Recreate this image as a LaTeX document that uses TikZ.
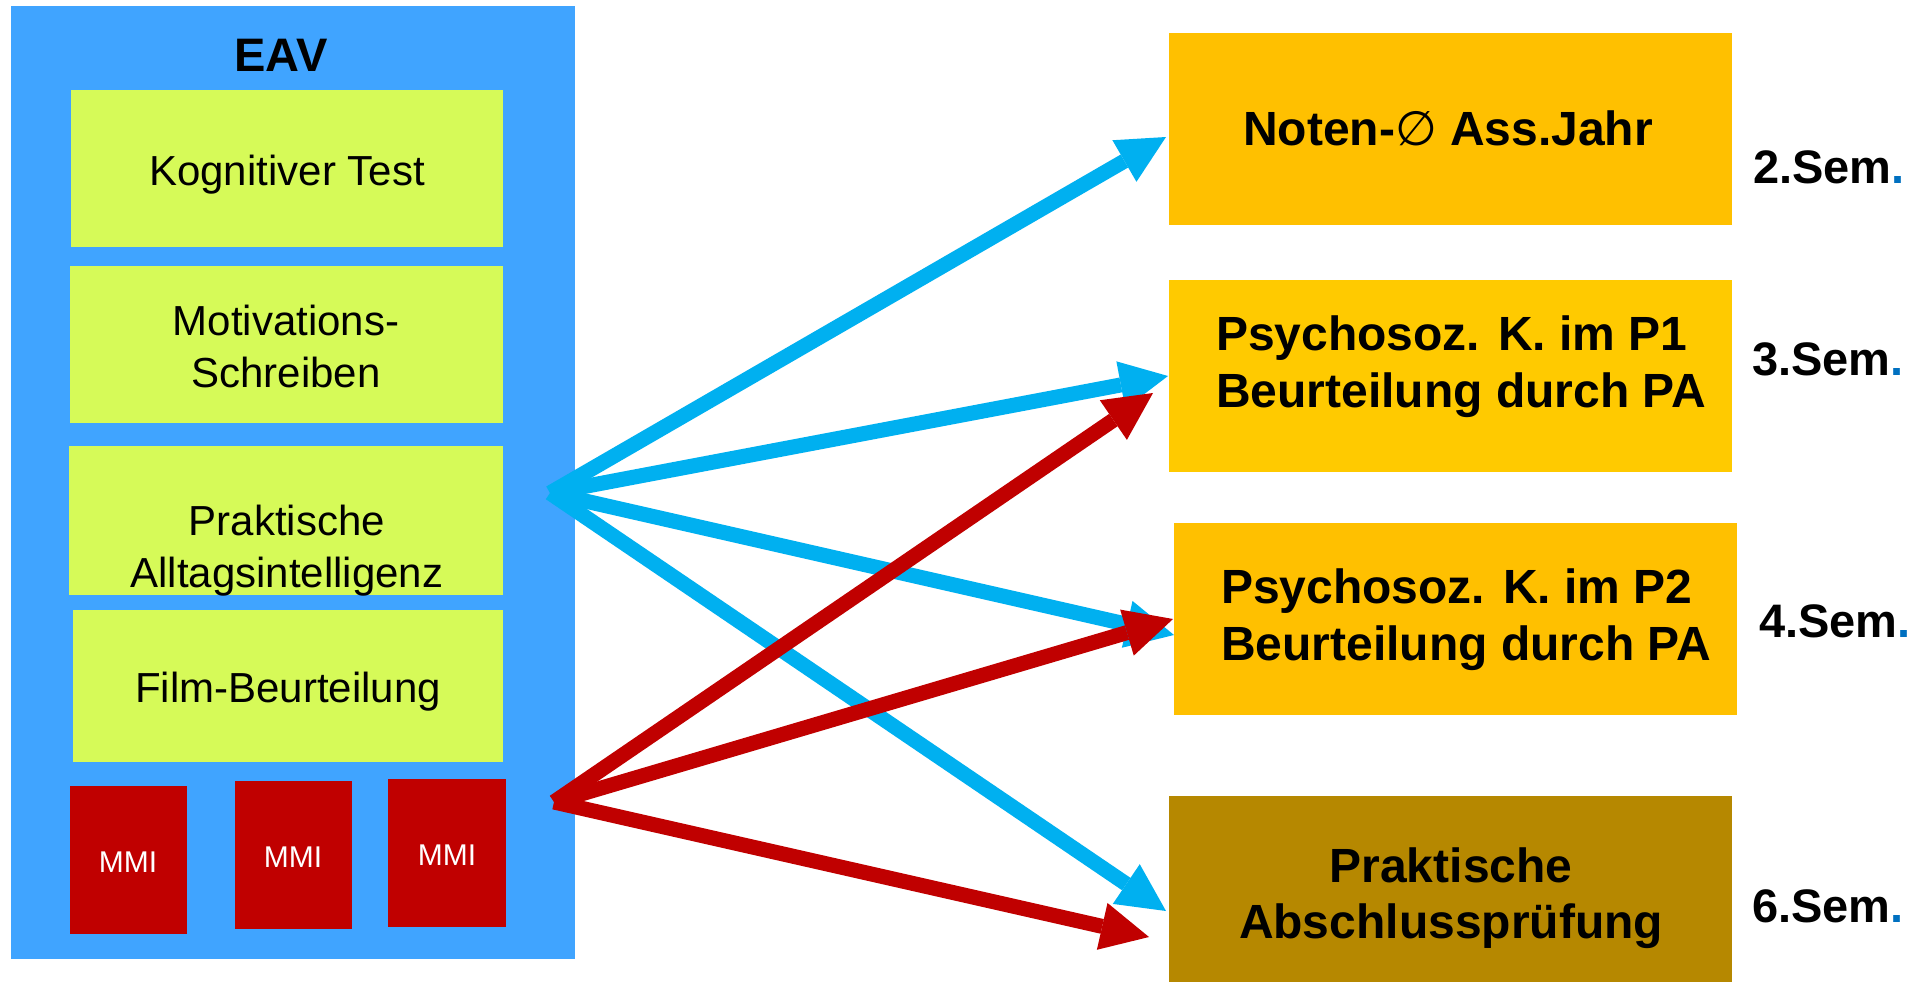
\documentclass[tikz,border=0pt]{standalone}
\usepackage{fontspec}
\setmainfont{Liberation Sans}
\newfontfamily\symfont{DejaVu Sans}
\usetikzlibrary{arrows.meta}
\definecolor{eavblue}{HTML}{40A4FF}
\definecolor{lgreen}{HTML}{D6FA58}
\definecolor{mmired}{HTML}{C00000}
\definecolor{orangeA}{HTML}{FFC000}
\definecolor{orangeB}{HTML}{FFCA00}
\definecolor{goldbox}{HTML}{B68800}
\definecolor{arrblue}{HTML}{00B0F0}
\definecolor{arrred}{HTML}{C00000}
\definecolor{dotblue}{HTML}{0070C0}
\begin{document}
\begin{tikzpicture}[x=1pt,y=-1pt,
  boxnode/.style={draw=none, inner sep=0pt, outer sep=0pt, anchor=north west, rectangle},
  gtext/.style={inner sep=0pt, anchor=base, font=\fontsize{42}{51}\selectfont, text=black},
  mtext/.style={inner sep=0pt, anchor=base, font=\fontsize{30}{36}\selectfont, text=white},
  btext/.style={inner sep=0pt, font=\fontsize{48}{58}\selectfont\bfseries, text=black},
  semtext/.style={inner sep=0pt, anchor=base west, font=\fontsize{47}{56}\selectfont\bfseries, text=black},
  barrow/.style={draw=arrblue, line width=15pt, -{Triangle[length=48pt,width=48pt,line width=0pt]}},
  rarrow/.style={draw=arrred, line width=15pt, -{Triangle[length=48pt,width=48pt,line width=0pt]}}
]
\useasboundingbox (0,0) rectangle (1917,982);
\fill[white] (0,0) rectangle (1917,982);

% EAV container
\node[boxnode, fill=eavblue, minimum width=564pt, minimum height=953pt] (eav) at (11,6) {};
\node[inner sep=0pt, anchor=base, font=\fontsize{47}{56}\selectfont\bfseries] (eavT) at (281,72) {EAV};

% green boxes
\node[boxnode, fill=lgreen, minimum width=432pt, minimum height=157pt] (kog) at (71,90) {};
\node[boxnode, fill=lgreen, minimum width=433pt, minimum height=157pt] (mot) at (70,266) {};
\node[boxnode, fill=lgreen, minimum width=434pt, minimum height=149pt] (prak) at (69,446) {};
\node[boxnode, fill=lgreen, minimum width=430pt, minimum height=152pt] (film) at (73,610) {};

\node[gtext] (kogT) at (287,185) {Kognitiver Test};
\node[gtext] (motT1) at (286,335) {Motivations-};
\node[gtext] (motT2) at (286,387) {Schreiben};
\node[gtext] (prakT1) at (287,535) {Praktische};
\node[gtext] (prakT2) at (287,587) {Alltagsintelligenz};
\node[gtext] (filmT) at (288,702) {Film-Beurteilung};

% MMI boxes
\node[boxnode, fill=mmired, minimum width=117pt, minimum height=148pt] (mmiA) at (70,786) {};
\node[boxnode, fill=mmired, minimum width=117pt, minimum height=148pt] (mmiB) at (235,781) {};
\node[boxnode, fill=mmired, minimum width=118pt, minimum height=148pt] (mmiC) at (388,779) {};
\node[mtext] (mmiAT) at (128,872) {MMI};
\node[mtext] (mmiBT) at (293,867) {MMI};
\node[mtext] (mmiCT) at (447,865) {MMI};

% right boxes
\node[boxnode, fill=orangeA, minimum width=563pt, minimum height=192pt] (noten) at (1169,33) {};
\node[boxnode, fill=orangeB, minimum width=563pt, minimum height=192pt] (pone) at (1169,280) {};
\node[boxnode, fill=orangeA, minimum width=563pt, minimum height=192pt] (ptwo) at (1174,523) {};
\node[boxnode, fill=goldbox, minimum width=563pt, minimum height=186pt] (absch) at (1169,796) {};

\node[btext, anchor=base] (notenT) at (1448,145) {Noten-{\symfont\mdseries ∅} Ass.Jahr};
\node[btext, anchor=base west] (poneT1) at (1216,350) {Psychosoz. K. im P1};
\node[btext, anchor=base west] (poneT2) at (1216,407) {Beurteilung durch PA};
\node[btext, anchor=base west] (ptwoT1) at (1221,603) {Psychosoz. K. im P2};
\node[btext, anchor=base west] (ptwoT2) at (1221,660) {Beurteilung durch PA};
\node[btext, anchor=base] (abschT1) at (1451,882) {Praktische};
\node[btext, anchor=base] (abschT2) at (1451,938) {Abschlussprüfung};

% semester labels
\node[semtext] (semA) at (1753,183) {2.Sem\textcolor{dotblue}{.}};
\node[semtext] (semB) at (1752,375) {3.Sem\textcolor{dotblue}{.}};
\node[semtext] (semC) at (1759,637) {4.Sem\textcolor{dotblue}{.}};
\node[semtext] (semD) at (1752,922) {6.Sem\textcolor{dotblue}{.}};

% arrow endpoints
\coordinate (bsrc) at (550,493);
\coordinate (rsrc) at (554,802);
\coordinate (bNoten) at (1166,137);
\coordinate (bPone) at (1168,376);
\coordinate (bPtwo) at (1174,635);
\coordinate (bAbsch) at (1166,911);
\coordinate (rPone) at (1153,393);
\coordinate (rPtwo) at (1173,619);
\coordinate (rAbsch) at (1149,937);

% blue arrows
\draw[barrow] (bsrc) -- (bNoten);
\draw[barrow] (bsrc) -- (bPone);
\draw[barrow] (bsrc) -- (bPtwo);
\draw[barrow] (bsrc) -- (bAbsch);
% red arrows
\draw[rarrow] (rsrc) -- (rPone);
\draw[rarrow] (rsrc) -- (rPtwo);
\draw[rarrow] (rsrc) -- (rAbsch);
\end{tikzpicture}
\end{document}
